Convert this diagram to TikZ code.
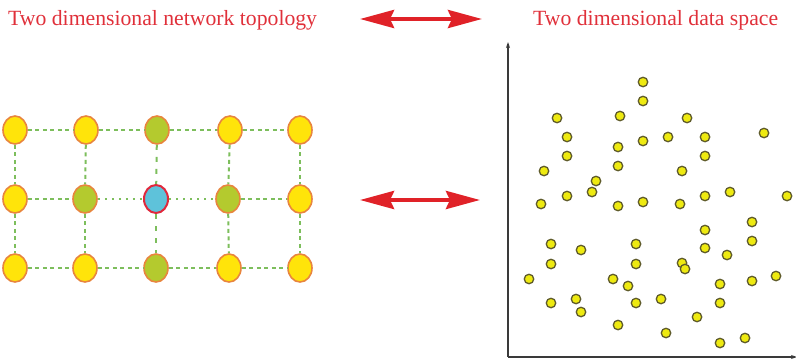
\documentclass[tikz,border=0pt]{standalone}
\usepackage{fontspec}
\setmainfont{Liberation Serif}
\usetikzlibrary{shapes.geometric,arrows.meta}
\definecolor{titlered}{HTML}{E0303A}
\definecolor{arrowred}{HTML}{E02228}
\definecolor{nodeyellow}{HTML}{FFE40A}
\definecolor{nodegreen}{HTML}{B4CA2E}
\definecolor{nodeblue}{HTML}{5EC2DA}
\definecolor{rimorange}{HTML}{E8853E}
\definecolor{rimred}{HTML}{E0283C}
\definecolor{linkgreen}{HTML}{7DBE5C}
\definecolor{dotyellow}{HTML}{EEEA10}
\definecolor{dotrim}{HTML}{5E5A2A}
\definecolor{axisgray}{HTML}{3A3A3A}
\tikzset{
  title/.style={text=titlered,font=\fontsize{21.7}{26}\selectfont,anchor=base west,inner sep=0},
  neuron/.style={ellipse,draw=rimorange,line width=1.6pt,minimum width=24pt,minimum height=28pt,inner sep=0},
  yel/.style={neuron,fill=nodeyellow},
  grn/.style={neuron,fill=nodegreen},
  win/.style={neuron,fill=nodeblue,draw=rimred,line width=2pt},
  link/.style={draw=linkgreen,line width=2pt,dash pattern=on 4pt off 3.5pt},
  dotlink/.style={draw=linkgreen,line width=2pt,dash pattern=on 2pt off 5pt},
  gaplink/.style={draw=linkgreen,line width=2pt,dash pattern=on 5pt off 7pt},
  bigarrow/.style={draw=arrowred,line width=4pt,{Stealth[length=34pt,width=18pt,inset=4pt]}-{Stealth[length=34pt,width=18pt,inset=4pt]}},
  axis/.style={draw=axisgray,line width=1.3pt,-{Stealth[length=6pt,width=4pt]}},
  datum/.style={circle,fill=dotyellow,draw=dotrim,line width=1.3pt,minimum size=9.5pt,inner sep=0},
}
\begin{document}
\begin{tikzpicture}[x=1pt,y=-1pt]
\useasboundingbox (0,0) rectangle (796,359);
% titles
\node[title] (t1) at (8,25) {Two dimensional network topology};
\node[title] (t2) at (533,25) {Two dimensional data space};
% arrows
\coordinate (a1l) at (360,19);
\coordinate (a1r) at (482,19);
\coordinate (a2l) at (360,200);
\coordinate (a2r) at (480,200);
\draw[bigarrow] (a1l) -- (a1r);
\draw[bigarrow] (a2l) -- (a2r);
% grid nodes
\node[yel] (n11) at (15,130) {};
\node[yel] (n12) at (86,130) {};
\node[grn] (n13) at (157,130) {};
\node[yel] (n14) at (230,130) {};
\node[yel] (n15) at (300,130) {};
\node[yel] (n21) at (15,199) {};
\node[grn] (n22) at (85,199) {};
\node[win] (n23) at (156,199) {};
\node[grn] (n24) at (228,199) {};
\node[yel] (n25) at (300,199) {};
\node[yel] (n31) at (15,268) {};
\node[yel] (n32) at (85,268) {};
\node[grn] (n33) at (156,268) {};
\node[yel] (n34) at (229,268) {};
\node[yel] (n35) at (300,268) {};
% links
\path[link] (n11) -- (n12);
\path[link] (n12) -- (n13);
\path[link] (n13) -- (n14);
\path[link] (n14) -- (n15);
\path[link] (n21) -- (n22);
\path[dotlink] (n22) -- (n23);
\path[dotlink] (n23) -- (n24);
\path[link] (n24) -- (n25);
\path[link] (n31) -- (n32);
\path[link] (n32) -- (n33);
\path[link] (n33) -- (n34);
\path[link] (n34) -- (n35);
\path[link] (n11) -- (n21);
\path[link] (n21) -- (n31);
\path[link] (n12) -- (n22);
\path[link] (n22) -- (n32);
\path[gaplink] (n13) -- (n23);
\path[gaplink] (n23) -- (n33);
\path[link] (n14) -- (n24);
\path[link] (n24) -- (n34);
\path[link] (n15) -- (n25);
\path[link] (n25) -- (n35);
% axes
\coordinate (o) at (508,357);
\coordinate (ytop) at (508,42);
\coordinate (xend) at (797,357);
\draw[axis] (o) -- (ytop);
\draw[axis] (o) -- (xend);
% data points
\foreach \px/\py [count=\i] in {
643/82, 643/101, 557/118, 620/116, 687/118, 567/137, 643/141, 668/137, 705/137, 764/133,
618/147, 567/156, 705/156, 618/166, 544/171, 682/171, 596/181, 592/192, 567/196, 705/196,
730/192, 787/196, 541/204, 618/206, 643/202, 680/204, 752/222, 705/230, 752/241, 551/244,
581/250, 636/244, 705/248, 727/255, 551/264, 636/264, 682/263, 685/269, 529/279, 613/279,
628/286, 720/284, 752/281, 776/276, 551/303, 576/299, 581/312, 636/303, 661/299, 720/303,
697/317, 618/325, 666/333, 720/343, 745/338}
  \node[datum] (d\i) at (\px,\py) {};
\end{tikzpicture}
\end{document}
